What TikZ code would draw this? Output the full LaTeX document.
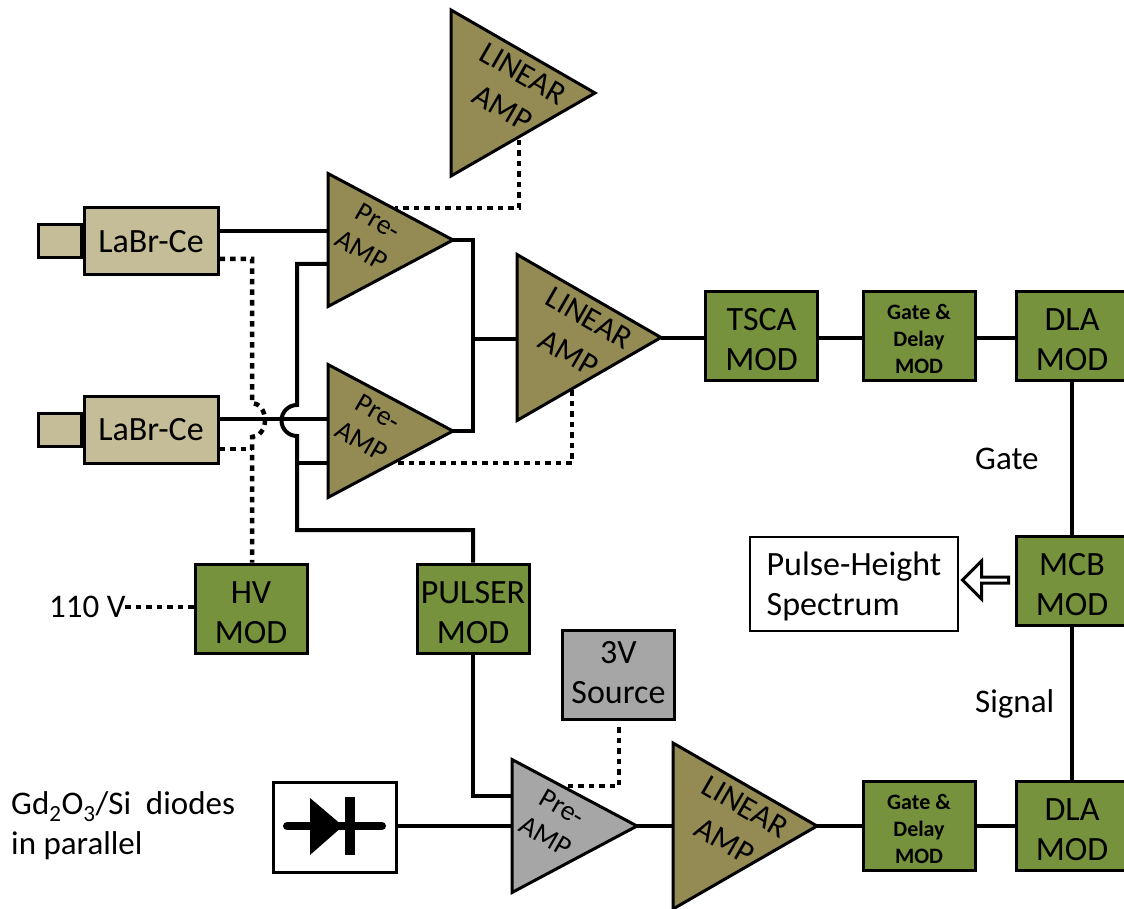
\documentclass[tikz,border=0pt]{standalone}
\usepackage{fontspec}
\setmainfont{Carlito}
\usepackage{tikz}
\usetikzlibrary{positioning, calc, shapes.geometric, shapes.arrows}
\definecolor{tan}{HTML}{C4BD97}
\definecolor{olive}{HTML}{948A54}
\definecolor{modgreen}{HTML}{76923C}
\definecolor{srcgray}{HTML}{A6A6A6}
\tikzstyle{Box} = [
draw, line width=3pt, rectangle, inner sep=0pt, align=center,
minimum width=112pt, minimum height=89pt,
font=\fontsize{34}{40}\selectfont
]
\tikzstyle{Mod} = [Box, fill=modgreen, text height=70pt]
\tikzstyle{GateMod} = [Mod, font=\fontsize{22}{27}\selectfont\bfseries, text height=75pt]
\tikzstyle{Det} = [Box, fill=tan, minimum width=134pt, minimum height=67pt]
\tikzstyle{Stub} = [Box, fill=tan, minimum width=43pt, minimum height=33pt]
\tikzstyle{Amp} = [
draw, line width=3pt, fill=olive, isosceles triangle, isosceles triangle stretches,
inner sep=0pt, outer sep=0pt, anchor=apex
]
\tikzstyle{PreAmp} = [Amp, minimum width=133pt, minimum height=125pt]
\tikzstyle{LinAmp} = [Amp, minimum width=166pt, minimum height=144pt]
\tikzstyle{AmpText} = [rotate=-30, align=center, inner sep=0pt, font=\fontsize{28}{34}\selectfont]
\tikzstyle{Wire} = [line width=4pt]
\tikzstyle{Dots} = [line width=4.5pt, dash pattern=on 5.5pt off 5pt]
\tikzstyle{Plain} = [inner sep=0pt, align=left, font=\fontsize{33}{40}\selectfont]

\begin{document}
\begin{tikzpicture}[x=1pt, y=-1pt]
			\useasboundingbox (0,0) rectangle (1124,909);

			% detectors
			\node [Det] (labr1) at (151,241.5) {LaBr-Ce};
			\node [Stub, left=0pt of labr1] (stub1) {};
			\node [Det] (labr2) at (151,430) {LaBr-Ce};
			\node [Stub, left=0pt of labr2] (stub2) {};

			% amplifiers
			\node [PreAmp] (pre1) at (453,240) {};
			\node [PreAmp] (pre2) at (453,431) {};
			\node [PreAmp, fill=srcgray] (pre3) at (637,826) {};
			\node [LinAmp] (lin1) at (595,93) {};
			\node [LinAmp] (lin2) at (661,337.5) {};
			\node [LinAmp] (lin3) at (817,826) {};
			\node [AmpText] (pre1text) at ($(pre1.apex)+(-83,-4)$) {Pre-\\AMP};
			\node [AmpText] (pre2text) at ($(pre2.apex)+(-83,-4)$) {Pre-\\AMP};
			\node [AmpText] (pre3text) at ($(pre3.apex)+(-83,-4)$) {Pre-\\AMP};
			\node [AmpText, font=\fontsize{32}{40}\selectfont] (lin1text) at ($(lin1.apex)+(-82,-2)$) {LINEAR\\AMP};
			\node [AmpText, font=\fontsize{32}{40}\selectfont] (lin2text) at ($(lin2.apex)+(-82,-2)$) {LINEAR\\AMP};
			\node [AmpText, font=\fontsize{32}{40}\selectfont] (lin3text) at ($(lin3.apex)+(-82,-2)$) {LINEAR\\AMP};

			% modules
			\node [Mod] (hv) at (251,608.5) {HV\\MOD};
			\node [Mod] (pulser) at (473,608.5) {PULSER\\MOD};
			\node [Box, fill=srcgray, text depth=5pt] (source) at (618.5,675) {3V\\Source};
			\node [Mod] (tsca) at (761.5,336) {TSCA\\MOD};
			\node [GateMod, right=42.5pt of tsca] (gate1) {Gate \&\\Delay\\MOD};
			\node [Mod, right=38pt of gate1] (dla1) {DLA\\MOD};
			\node [Mod] (mcb) at (1072,580.5) {MCB\\MOD};
			\node [GateMod] (gate2) at (919,826) {Gate \&\\Delay\\MOD};
			\node [Mod, right=38pt of gate2] (dla2) {DLA\\MOD};
			\node [draw, line width=1.2pt, minimum width=208pt, minimum height=94pt, align=left,
				font=\fontsize{34}{40}\selectfont, text height=68pt] (spectrum) at (854,584) {Pulse-Height\\Spectrum};
			\node [draw, line width=3pt, single arrow, shape border rotate=180, inner sep=0pt,
				minimum height=46pt, minimum width=38pt, single arrow head extend=8pt,
				single arrow head indent=0pt] (out) at (987,580) {};

			% diode
			\node [Box, minimum width=123pt, minimum height=90pt] (diode) at (334.5,827) {};
			\draw [line width=8pt, line cap=round] ($(diode.center)+(-47.5,-1)$) -- ($(diode.center)+(47.5,-1)$);
			\fill ($(diode.center)+(-24.5,-29)$) -- ($(diode.center)+(8.5,-1)$) -- ($(diode.center)+(-24.5,28)$) -- cycle;
			\draw [line width=10pt] ($(diode.center)+(15.5,-30)$) -- ($(diode.center)+(15.5,28)$);

			% solid wires
			\draw[Wire] (labr1.east |- 0,231) -- (pre1.lower side |- 0,231);
			\draw[Wire] (labr2.east |- 0,419) -- (pre2.lower side |- 0,419);
			\draw[Wire] (pre1.apex) -- (473,240) -- (473,431) -- (pre2.apex);
			\draw[Wire] (473,339) -- (lin2.lower side |- 0,339);
			\draw[Wire] (pre1.lower side |- 0,264) -- (297,264) -- (297,405)
				arc[start angle=-90, end angle=-270, radius=15.5] -- (297,530) -| (pulser.north);
			\draw[Wire] (pre2.lower side |- 0,463) -- (297,463);
			\draw[Wire] (lin2.apex) -- (tsca.west |- lin2.apex);
			\draw[Wire] (tsca.east |- lin2.apex) -- (gate1.west |- lin2.apex);
			\draw[Wire] (gate1.east |- lin2.apex) -- (dla1.west |- lin2.apex);
			\draw[Wire] (dla1) -- (mcb);
			\draw[Wire] (mcb) -- (dla2);
			\draw[Wire] (pulser.south) |- (pre3.lower side |- 0,796);
			\draw[Wire] (diode.east |- pre3.apex) -- (pre3.lower side);
			\draw[Wire] (pre3.apex) -- (lin3.lower side);
			\draw[Wire] (lin3.apex) -- (gate2);
			\draw[Wire] (gate2) -- (dla2);

			% dotted wires
			\coordinate (mains) at (125,607);
			\coordinate (lin1tap) at (519,140);
			\coordinate (pre1tap) at (395,208);
			\coordinate (lin2tap) at (572,390);
			\coordinate (pre2tap) at (395,463);
			\coordinate (pre3tap) at (568,786);
			\draw[Dots] (mains) -- (hv.west |- mains);
			\draw[Dots] (labr1.east |- 0,259) -- (252,259) -- (252,403)
				arc[start angle=-90, end angle=90, x radius=13, y radius=17] -- (hv.north -| 252,0);
			\draw[Dots] (labr2.east |- 0,449) -- (252,449);
			\draw[Dots] (lin1tap) |- (pre1tap);
			\draw[Dots] (lin2tap) |- (pre2tap);
			\draw[Dots] (source.south -| 619,0) ++(0,6) |- (pre3tap);

			% labels
			\node [Plain, anchor=west] (mainslabel) at (49,607) {110 V};
			\node [Plain, anchor=west] (gatelabel) at (975,459) {Gate};
			\node [Plain, anchor=west] (signallabel) at (975,704) {Signal};
			\node [Plain, anchor=west] (diodelabel) at (11,826) {Gd\textsubscript{2}O\textsubscript{3}/Si\ \ diodes\\in parallel};
		\end{tikzpicture}
\end{document}
